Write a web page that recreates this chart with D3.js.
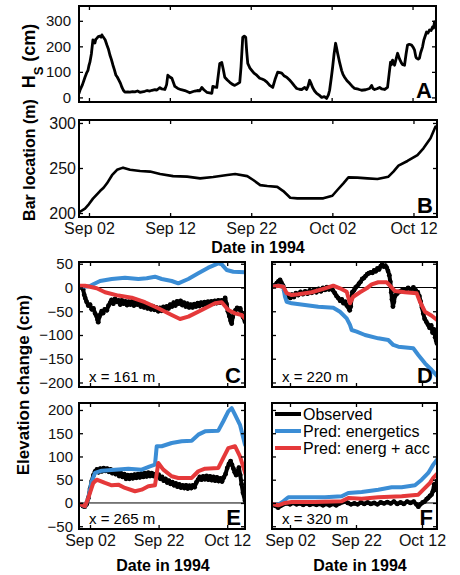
<!DOCTYPE html>
<html>
<head>
<meta charset="utf-8">
<script src="https://cdn.jsdelivr.net/npm/d3@7"></script>
<style>
  body { margin: 0; background: #fff; }
  svg { display: block; font-family: "Liberation Sans", Arial, Helvetica, sans-serif; }
</style>
</head>
<body>
<div id="chart"></div>
<script>
// time is in days counted from Aug 31 1994 (Sep 02 = 2, Oct 02 = 32, Oct 12 = 42)

// A: significant wave height (cm)
var waveHeight = [
  [0.77,16],[0.89,28],[1.2,50],[1.51,79],[1.7,95],[1.88,106],[2.0,125],[2.12,138],[2.3,170],[2.49,225],
  [2.6,218],[2.74,213],[2.85,228],[2.99,232],[3.15,238],[3.36,240],[3.5,236],[3.6,245],[3.72,238],[3.85,233],
  [4.0,226],[4.22,205],[4.4,190],[4.59,166],[4.78,148],[4.96,127],[5.15,108],[5.33,87],[5.5,80],[5.7,68],
  [5.9,55],[6.07,40],[6.25,28],[6.44,21],[6.8,22],[7.06,21],[7.4,23],[7.68,22],[8.0,25],[8.3,20],
  [8.6,22],[8.91,24],[9.2,27],[9.53,25],[9.8,28],[10.15,30],[10.4,29],[10.77,38],[11.0,33],[11.38,31],
  [11.6,50],[11.75,87],[12.0,80],[12.25,75],[12.62,43],[12.99,35],[13.4,30],[13.85,27],[14.2,22],[14.47,18],
  [14.8,22],[15.09,25],[15.4,27],[15.7,26],[15.95,39],[16.2,30],[16.57,20],[16.9,18],[17.19,16],[17.31,43],
  [17.6,40],[17.8,39],[18.0,90],[18.17,133],[18.42,137],[18.6,110],[18.79,79],[19.1,68],[19.41,59],[19.7,52],
  [20.02,47],[20.3,52],[20.64,59],[20.8,120],[21.01,235],[21.2,240],[21.38,235],[21.5,180],[21.63,133],[21.9,115],
  [22.12,106],[22.4,95],[22.74,87],[23.11,75],[23.4,72],[23.73,67],[24.0,60],[24.35,47],[24.72,39],[25.0,70],
  [25.33,99],[25.6,97],[25.83,95],[26.1,85],[26.44,79],[26.8,68],[27.06,59],[27.4,45],[27.68,35],[28.0,32],
  [28.3,31],[28.67,39],[28.91,31],[29.1,45],[29.28,67],[29.45,55],[29.65,39],[29.9,25],[30.15,16],[30.5,8],
  [30.77,0],[31.1,3],[31.38,-4],[31.6,10],[31.75,28],[31.95,75],[32.12,118],[32.3,170],[32.49,212],[32.6,195],
  [32.74,173],[33.0,135],[33.23,106],[33.4,90],[33.6,79],[33.9,65],[34.22,55],[34.5,45],[34.84,35],[35.3,32],
  [35.7,28],[36.2,30],[36.69,35],[36.94,47],[37.1,35],[37.31,31],[37.6,34],[37.93,39],[38.2,33],[38.54,31],
  [38.91,39],[39.1,90],[39.28,138],[39.4,128],[39.53,146],[39.78,126],[40.0,155],[40.15,173],[40.4,150],[40.64,134],
  [40.8,128],[41.01,126],[41.2,170],[41.38,205],[41.6,208],[41.88,205],[42.1,195],[42.25,185],[42.4,160],[42.49,154],
  [42.7,150],[42.86,154],[43.0,175],[43.23,197],[43.4,225],[43.73,256],[43.9,252],[44.1,264],[44.3,262],[44.47,276],
  [44.6,272],[44.72,296]
];

// B: sandbar crest location (m)
var barLocation = [
  [0.77,201],[0.89,201.4],[1.51,205],[2.0,210],[2.49,216],[3.36,224.4],[3.8,228],[4.22,233],[4.84,242],[5.46,248],
  [6.2,250.4],[7.06,248],[8.3,246.7],[9.53,246],[10.77,243.3],[12.37,241],[14.1,240.4],[15.7,238.5],[17.31,240],[19.04,242.2],
  [20.02,243.3],[21.51,241],[22.25,236.7],[23.11,231],[23.98,230],[25.21,229],[25.95,224.4],[26.81,217],[27.68,216.3],[29.28,216.3],
  [30.89,216.3],[32.0,219.2],[32.62,225.6],[33.36,233],[33.98,239.6],[35.09,239.3],[36.32,238.5],[37.56,237.8],[38.91,240.4],[39.53,246],
  [40.15,252.6],[41.26,257.8],[42.49,264.4],[43.23,271.8],[44.1,283],[44.72,296]
];

// C: x = 161 m
var observedC = [
  [-1.2,2],[-0.5,0],[0,-4],[0.3,-15],[0.6,-22],[1,-30],[1.5,-38],[2,-36],[2.5,-46],[3,-44],[3.5,-55],[3.9,-60],
  [4.2,-68],[4.4,-73],[4.7,-62],[5,-57],[5.4,-50],[5.8,-54],[6.3,-46],[6.9,-48],[7.4,-38],[7.9,-32],[8.3,-26],
  [8.8,-34],[9.3,-24],[9.8,-30],[10.3,-27],[10.8,-36],[11.3,-27],[11.8,-34],[12.3,-29],[12.8,-37],[13.3,-30],
  [13.8,-36],[14.3,-29],[14.8,-38],[15.3,-31],[15.8,-36],[16.3,-29],[16.8,-40],[17.3,-33],[17.8,-42],[18.3,-36],
  [18.8,-44],[19.3,-38],[19.8,-46],[20.3,-39],[20.8,-47],[21.3,-42],[21.9,-50],[22.4,-43],[22.9,-49],[23.4,-41],
  [23.9,-47],[24.4,-40],[24.9,-44],[25.4,-36],[25.9,-40],[26.4,-32],[26.9,-38],[27.4,-29],[27.9,-34],[28.4,-28],
  [28.9,-37],[29.4,-32],[29.9,-40],[30.4,-34],[30.9,-42],[31.4,-36],[31.9,-42],[32.4,-35],[32.9,-40],[33.4,-33],
  [33.9,-39],[34.4,-32],[34.9,-37],[35.4,-31],[35.9,-36],[36.4,-30],[36.9,-35],[37.4,-29],[37.9,-34],[38.4,-28],
  [38.9,-33],[39.4,-27],[39.9,-32],[40.4,-27],[40.9,-29],[41.4,-22],[41.8,-35],[42.2,-50],[42.6,-60],[43,-70],
  [43.3,-76],[43.6,-62],[44,-52],[44.4,-48],[44.9,-43],[45.4,-46],[45.8,-44],[46.2,-54],[46.6,-62],[47.2,-72]
];
var energeticsC = [
  [-1.2,2],[1,2],[2,3],[2.96,6.7],[4.92,13.7],[8.33,17.9],[12.2,20.7],[16.08,17.9],[18.53,19.4],[20.95,22.8],
  [22.9,17.9],[25.82,13.7],[27.74,8.8],[30.66,17.9],[33.57,29.8],[36.49,41.7],[39.41,50.9],[40.4,48.8],[41.85,36.8],
  [43.78,33.3],[47.19,32]
];
var accelC = [
  [-1.21,3.8],[0.54,3.8],[2,1.7],[3.95,-1.7],[6.37,-10],[10.25,-17],[14.16,-21.5],[18.03,-31],[21.91,-43.8],[25.82,-57.9],
  [28.24,-66.3],[30.66,-61.4],[34.57,-47.4],[38.44,-33.3],[40.4,-31.2],[42.32,-47.4],[44.27,-54.4],[46.23,-57.9],[47.19,-64.9]
];

// D: x = 220 m
var observedD = [
  [-3.45,2],[-2.8,4],[-2.0,9],[-1.5,13],[-1.0,16],[-0.6,10],[-0.1,4],[0.3,-6],[0.7,-15],[1.0,-20],[1.6,-16],[2.1,-22],
  [2.6,-15],[3.2,-20],[3.8,-12],[4.5,-16],[5.2,-9],[5.9,-14],[6.6,-8],[7.3,-13],[8.0,-6],[8.6,-11],[9.3,-5],[10,-10],
  [10.7,-3],[11.4,-8],[12,-1],[12.6,-5],[13.2,1],[13.8,-4],[14.5,0],[15,-6],[15.6,-12],[16.1,-18],[16.6,-22],[17.2,-28],
  [17.7,-25],[18.2,-33],[18.7,-30],[19.2,-38],[19.7,-42],[20.1,-48],[20.4,-40],[20.7,-20],[20.9,-10],[21.4,-6],[21.9,0],
  [22.4,3],[22.9,8],[23.4,12],[23.9,18],[24.4,20],[24.9,24],[25.4,28],[25.9,30],[26.5,32],[27,31],[27.5,36],[28,34],
  [28.5,40],[29,38],[29.5,45],[29.9,48],[30.4,44],[30.9,46],[31.3,42],[31.7,35],[32.1,26],[32.4,12],[32.7,-10],[32.9,-25],
  [33.2,-40],[33.5,-30],[33.8,-18],[34.3,-14],[34.9,-10],[35.5,-8],[36.2,-4],[37,-6],[37.8,-1],[38.6,-4],[39.4,0],
  [40.1,-6],[40.7,-10],[41.2,-18],[41.6,-30],[42,-42],[42.4,-55],[42.8,-66],[43.3,-72],[43.8,-78],[44.3,-85],[44.8,-80],
  [45.2,-95],[45.6,-88],[46.0,-105],[46.3,-112],[46.55,-118]
];
var energeticsD = [
  [-3.45,1.7],[-1.55,3.8],[-0.03,1.7],[0.48,-19.4],[1.0,-30],[2.52,-33.3],[6.55,-36.8],[10.58,-40.4],[15.12,-42.5],
  [17.15,-51],[19.18,-64.9],[20.18,-78.9],[20.7,-89.5],[22.21,-93],[24.73,-100],[28.76,-107],[31.79,-110.5],[33.3,-121],
  [34.82,-124.6],[39.36,-128],[40.88,-142],[42.91,-159.6],[44.94,-173.7],[46.55,-186]
];
var accelD = [
  [-3.45,1.7],[-1.55,3.8],[-0.03,1.7],[1.0,-12],[2.52,-15.8],[4.52,-14.3],[8.58,-10],[12.61,-1.7],[15.12,3.8],
  [17.15,-1.7],[19.18,-8.8],[20.18,-33.3],[21.18,-19.4],[23.21,-10],[25.24,-1.7],[26.76,6.7],[28.76,11],[31.3,11],
  [32.3,3.8],[33.82,-7.4],[36.85,-10],[40.39,-12.2],[41.39,-30],[42.91,-51],[44.94,-59.4],[46.55,-68.4]
];

// E: x = 265 m
var observedE = [
  [-1.21,-2],[-0.5,-4],[0,-7],[0.5,-8],[1,-3],[1.5,10],[2,30],[2.5,47],[3,60],[3.5,68],[4,72],[4.5,66],[5,74],[5.5,68],
  [6,75],[6.5,69],[7,74],[7.5,67],[8,72],[8.5,64],[9,70],[9.5,62],[10,67],[10.5,58],[11,64],[11.5,56],[12,62],[12.5,52],
  [13,60],[13.5,52],[14,60],[14.5,53],[15,61],[15.5,54],[16,62],[16.5,55],[17,63],[17.5,56],[18,64],[18.5,57],[19,65],
  [19.5,58],[20,64],[20.5,58],[21,62],[21.5,57],[22,61],[22.5,52],[23,56],[23.5,48],[24,52],[24.5,44],[25,48],[25.5,41],
  [26,45],[26.5,38],[27,42],[27.5,35],[28,40],[28.5,33],[29,38],[29.5,32],[30,38],[30.5,31],[31,37],[31.5,32],[32,38],
  [32.5,34],[33,44],[33.5,50],[34,56],[34.5,50],[35,57],[35.5,51],[36,58],[36.5,50],[37,57],[37.5,49],[38,56],[38.5,48],
  [39,55],[39.5,47],[40,53],[40.5,46],[41,55],[41.5,62],[42,75],[42.5,84],[43,90],[43.4,82],[43.8,74],[44.2,66],[44.6,60],
  [45,68],[45.4,76],[45.8,60],[46.2,40],[46.6,22],[47.19,5]
];
var energeticsE = [
  [-1.21,-2],[0.54,-7],[1.5,10.7],[2.5,46.7],[3.46,64.5],[5.41,69.5],[9.29,71.6],[13.17,73.8],[17.07,71.6],[19.49,78.9],
  [20.95,82.4],[21.45,122],[22.9,122],[25.82,129],[28.73,132.7],[31.65,134],[33.57,146.9],[35.53,154],[39.41,155.5],
  [40.87,175.7],[42.32,197],[43.31,204],[44.27,190],[45.73,168],[47.19,125]
];
var accelE = [
  [-1.21,-2],[0.54,-7],[1.5,10.7],[2.96,43],[3.95,50],[6.37,43],[8.33,38],[10.25,39.4],[12.2,32.3],[15.12,25.2],
  [17.07,28.6],[19.0,35.8],[20.95,38],[21.91,86],[23.37,71.6],[25.82,57.4],[27.74,53.8],[31.65,53.8],[33.57,68.2],
  [35.53,73.8],[39.41,75.3],[40.87,96.8],[42.32,118],[44.27,122],[45.73,100],[47.39,61]
];

// F: x = 320 m
var observedF = [
  [-3.45,-3],[-2.5,-6],[-1.6,-10],[-0.8,-6],[0,-3],[1,-1],[2,-3],[3,0],[4,-3],[5,-1],[6,-4],[7,-1],[8,-4],[9,-2],[10,-4],
  [11,-2],[12,-5],[13,-2],[14,-5],[15,-2],[16,-5],[17,-1],[18,2],[18.7,4],[19.5,0],[20.5,-3],[21.5,-1],[22.5,-3],[23.5,1],
  [24.5,-2],[25.5,1],[26.5,-2],[27.5,0],[28.5,-3],[29.5,1],[30.5,-1],[31.5,2],[32.5,-1],[33.5,3],[34.5,-2],[35.5,1],
  [36.5,-2],[37.5,3],[38.5,0],[39.5,3],[40.3,-3],[40.9,-8],[41.5,-3],[42.2,1],[42.8,3],[43.4,8],[43.9,11],[44.4,15],
  [44.9,18],[45.3,25],[45.7,40],[46.0,32],[46.3,28],[46.55,47]
];
var energeticsF = [
  [-3.45,-2],[-1.55,-3.6],[-0.03,3.6],[1.48,12.2],[6.55,12.2],[12.61,12.2],[17.67,14.4],[19.67,21.5],[23.73,23.7],
  [28.76,28.6],[32.82,33.8],[35.85,33.8],[39.88,38],[41.91,50],[43.91,64.5],[45.42,82.4],[46.55,93]
];
var accelF = [
  [-3.45,-2],[-1.55,-5],[0.48,0],[2.52,2.2],[9.58,2.2],[17.67,3.6],[19.67,10.7],[23.73,9.3],[28.76,12.2],[35.85,14.4],
  [40.88,17.9],[42.39,28.6],[44.42,43],[45.42,53.8],[46.55,62.4]
];

var tickDatesTop = ["1994-09-02", "1994-09-12", "1994-09-22", "1994-10-02", "1994-10-12"];
var tickDatesBottom = ["1994-09-02", "1994-09-22", "1994-10-12"];
var ticksA = [0, 100, 200, 300];
var ticksB = [200, 250, 300];
var ticksCD = [50, 0, -50, -100, -150, -200];
var ticksEF = [200, 150, 100, 50, 0, -50];
var legendNames = ["Observed", "Pred: energetics", "Pred: energ + acc"];

var BLUE = "#3b8dd5",
  RED = "#e5393a";
var day0 = Date.UTC(1994, 7, 31);
function toDate(d) {
  return new Date(day0 + d * 864e5);
}
var fmt = d3.utcFormat("%b %d");

var svg = d3.select("#chart").append("svg").attr("width", 460).attr("height", 575);
svg.append("rect").attr("width", 460).attr("height", 575).attr("fill", "#fff");

function panel(cfg) {
  var x = d3.scaleUtc().domain(cfg.xDomain.map(toDate)).range([cfg.left, cfg.right]);
  var y = d3.scaleLinear().domain(cfg.yDomain).range([cfg.bottom, cfg.top]);
  var g = svg.append("g");
  var clipId = "clip" + cfg.letter;

  g.append("clipPath")
    .attr("id", clipId)
    .append("rect")
    .attr("x", cfg.left)
    .attr("y", cfg.top)
    .attr("width", cfg.right - cfg.left)
    .attr("height", cfg.bottom - cfg.top);

  if (cfg.zeroLine) {
    g.append("line")
      .attr("x1", cfg.left)
      .attr("x2", cfg.right)
      .attr("y1", y(0))
      .attr("y2", y(0))
      .style("stroke", "#000")
      .style("stroke-width", "1px");
  }

  var line = d3
    .line()
    .x(function (d) { return x(toDate(d[0])); })
    .y(function (d) { return y(d[1]); });

  var plot = g.append("g").attr("clip-path", "url(#" + clipId + ")");
  cfg.series.forEach(function (s) {
    plot.append("path")
      .datum(s.data)
      .attr("d", line)
      .style("fill", "none")
      .style("stroke", s.color)
      .style("stroke-width", s.width + "px")
      .style("stroke-linejoin", "round")
      .style("stroke-linecap", "round");
    if (s.dots) {
      plot.selectAll(null)
        .data(s.data)
        .enter()
        .append("circle")
        .attr("cx", function (d) { return x(toDate(d[0])); })
        .attr("cy", function (d) { return y(d[1]); })
        .attr("r", 2.4)
        .style("fill", "#000");
    }
  });

  var tickDates = cfg.xTicks.map(function (s) { return new Date(s); });
  var axes = [
    [d3.axisBottom(x).tickValues(tickDates).tickFormat(cfg.xLabels ? fmt : ""), 0, cfg.bottom, cfg.xFont],
    [d3.axisTop(x).tickValues(tickDates).tickFormat(""), 0, cfg.top, 0],
    [d3.axisLeft(y).tickValues(cfg.yTicks).tickFormat(cfg.yLabels ? d3.format("d") : ""), cfg.left, 0, cfg.yFont],
    [d3.axisRight(y).tickValues(cfg.yTicks).tickFormat(""), cfg.right, 0, 0],
  ];
  axes.forEach(function (a, i) {
    var ax = g.append("g")
      .attr("transform", "translate(" + a[1] + "," + a[2] + ")")
      .call(a[0].tickSize(-4).tickPadding(i == 2 ? cfg.yPad : 6));
    ax.select(".domain").remove();
    ax.selectAll("line").style("stroke-width", "1.3px");
    ax.selectAll("text")
      .style("font-family", "Liberation Sans, Arial, sans-serif")
      .style("font-size", a[3] + "px")
      .style("fill", "#111");
  });

  g.append("rect")
    .attr("x", cfg.left)
    .attr("y", cfg.top)
    .attr("width", cfg.right - cfg.left)
    .attr("height", cfg.bottom - cfg.top)
    .style("fill", "none")
    .style("stroke", "#000")
    .style("stroke-width", "2px");

  g.append("text")
    .attr("x", cfg.right - 4)
    .attr("y", cfg.bottom - 4)
    .attr("text-anchor", "end")
    .style("font-weight", "bold")
    .style("font-size", "22px")
    .text(cfg.letter);

  if (cfg.note) {
    g.append("text")
      .attr("x", cfg.left + 10)
      .attr("y", cfg.bottom - 5)
      .style("font-size", "15px")
      .text(cfg.note);
  }
  return { x: x, y: y, g: g };
}

panel({
  letter: "A", left: 79, right: 436, top: 6, bottom: 102,
  xDomain: [0.77, 44.9], yDomain: [-18, 358],
  xTicks: tickDatesTop, xLabels: false, yTicks: ticksA, yLabels: true, yPad: 8, yFont: 15, xFont: 16,
  series: [{ data: waveHeight, color: "#000", width: 2.8 }],
});

panel({
  letter: "B", left: 79, right: 437, top: 120, bottom: 217,
  xDomain: [0.77, 44.9], yDomain: [195.6, 303.3],
  xTicks: tickDatesTop, xLabels: true, yTicks: ticksB, yLabels: true, yPad: 3, yFont: 16, xFont: 16,
  series: [{ data: barLocation, color: "#000", width: 2.6 }],
});

var left = { left: 79, right: 245, xDomain: [-1.21, 47.19] };
var right = { left: 272, right: 437, xDomain: [-3.45, 46.55] };
var rowCD = { top: 262, bottom: 387, yDomain: [-209.5, 53.7], yTicks: ticksCD };
var rowEF = { top: 403, bottom: 529, yDomain: [-56, 215], yTicks: ticksEF };

function bottomPanel(col, row, letter, note, obs, energ, accel, showY, showX) {
  return panel({
    letter: letter, note: note, left: col.left, right: col.right, top: row.top, bottom: row.bottom,
    xDomain: col.xDomain, yDomain: row.yDomain,
    xTicks: tickDatesBottom, xLabels: showX, yTicks: row.yTicks, yLabels: showY, yPad: 6, yFont: 15, xFont: 16,
    zeroLine: true,
    series: [
      { data: obs, color: "#000", width: 4, dots: true },
      { data: energ, color: BLUE, width: 4 },
      { data: accel, color: RED, width: 4 },
    ],
  });
}

bottomPanel(left, rowCD, "C", "x = 161 m", observedC, energeticsC, accelC, true, false);
bottomPanel(right, rowCD, "D", "x = 220 m", observedD, energeticsD, accelD, false, false);
bottomPanel(left, rowEF, "E", "x = 265 m", observedE, energeticsE, accelE, true, true);
bottomPanel(right, rowEF, "F", "x = 320 m", observedF, energeticsF, accelF, false, true);

// legend inside F
var legend = svg.append("g").attr("transform", "translate(275,414)");
[["#000", 0], [BLUE, 1], [RED, 2]].forEach(function (c) {
  legend.append("line")
    .attr("x1", 0).attr("x2", 26)
    .attr("y1", c[1] * 17).attr("y2", c[1] * 17)
    .style("stroke", c[0])
    .style("stroke-width", "4px");
  legend.append("text")
    .attr("x", 28)
    .attr("y", c[1] * 17)
    .attr("dy", "0.35em")
    .style("font-size", "16px")
    .text(legendNames[c[1]]);
});

// axis titles
function title(txt, x, y, rotate, size) {
  return svg.append("text")
    .attr("transform", "translate(" + x + "," + y + ")" + (rotate ? " rotate(-90)" : ""))
    .attr("text-anchor", "middle")
    .style("font-weight", "bold")
    .style("font-size", size + "px")
    .text(txt);
}
var hs = title("H", 35, 56, true, 18);
hs.append("tspan").attr("baseline-shift", "sub").style("font-size", "13px").text("S");
hs.append("tspan").text(" (cm)");
title("Bar location (m)", 35, 160, true, 16);
title("Elevation change (cm)", 29, 385, true, 17);
title("Date in 1994", 258, 253, false, 16);
title("Date in 1994", 163, 571, false, 16);
title("Date in 1994", 360, 571, false, 16);
</script>
</body>
</html>
